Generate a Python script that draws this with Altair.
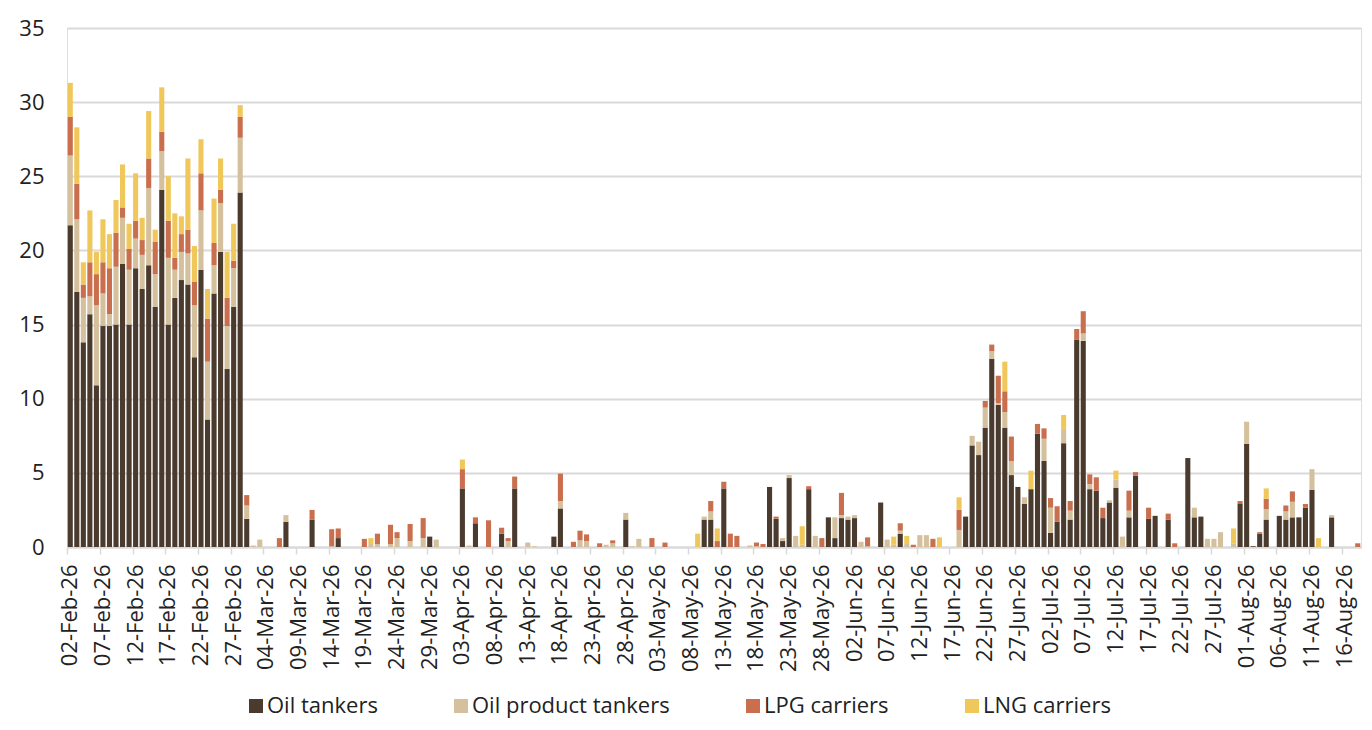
import altair as alt
import pandas as pd

# ---- categories ----
dates = pd.date_range("2026-02-02", periods=198, freq="D").strftime("%d-%b-%y").tolist()
tick_labels = dates[::5]
series_names = ["Oil tankers", "Oil product tankers", "LPG carriers", "LNG carriers"]
series_colors = ["#4b3b2f", "#d4c09c", "#c96f4e", "#f0c75a"]

# ---- values (per day, 02-Feb-26 .. 18-Aug-26) ----
oil_feb = [21.7, 17.2, 13.8, 15.7, 10.9, 14.9, 14.9, 15.0, 19.1, 15.0, 18.8, 17.4, 19.0, 16.2,
           24.1, 15.0, 16.8, 18.0, 17.7, 12.8, 18.7, 8.6, 17.1, 19.9, 12.0, 16.2, 23.9]
prod_feb = [4.7, 4.9, 3.0, 1.2, 5.4, 2.2, 0.8, 3.9, 3.1, 3.7, 2.0, 2.3, 5.2, 2.2,
            2.6, 4.5, 1.9, 1.9, 2.1, 3.5, 4.0, 3.9, 1.9, 3.3, 2.9, 2.6, 3.7]
lpg_feb = [2.6, 2.4, 0.9, 2.3, 2.1, 2.1, 3.1, 2.3, 0.7, 1.4, 1.2, 1.0, 2.0, 2.2,
           1.3, 2.5, 0.8, 1.2, 1.6, 1.6, 2.5, 2.9, 1.5, 0.9, 1.9, 0.5, 1.4]
lng_feb = [2.3, 3.8, 1.5, 3.5, 1.5, 2.9, 2.3, 2.2, 2.9, 1.7, 3.2, 1.5, 3.2, 0.8,
           3.0, 3.0, 3.0, 1.2, 4.8, 2.4, 2.3, 2.0, 3.0, 2.1, 3.1, 2.5, 0.8]

oil_mar = [1.9, 0, 0, 0, 0, 0, 1.7, 0, 0, 0,
           1.85, 0, 0, 0, 0.6, 0, 0, 0, 0, 0,
           0, 0, 0, 0, 0, 0, 0, 0, 0.7, 0,
           0]
prod_mar = [0.9, 0.1, 0.5, 0, 0, 0, 0.45, 0, 0, 0,
            0, 0, 0, 0.05, 0, 0, 0, 0, 0, 0.2,
            0.2, 0, 0.2, 0.6, 0, 0.4, 0, 0.6, 0, 0.5,
            0]
lpg_mar = [0.7, 0, 0, 0, 0, 0.6, 0, 0, 0, 0,
           0.65, 0, 0, 1.15, 0.65, 0, 0, 0, 0.55, 0,
           0.7, 0, 1.3, 0.4, 0, 1.15, 0, 1.35, 0, 0,
           0]
lng_mar = [0, 0, 0, 0, 0, 0, 0, 0, 0, 0,
           0, 0, 0, 0, 0, 0, 0, 0, 0, 0.4,
           0, 0, 0, 0, 0, 0, 0, 0, 0, 0,
           0]

oil_apr = [0, 0, 3.95, 0, 1.6, 0, 0, 0, 0.9, 0,
           3.95, 0, 0, 0, 0, 0, 0.7, 2.6, 0, 0,
           0, 0, 0, 0, 0, 0, 0, 1.85, 0, 0]
prod_apr = [0, 0, 0, 0.1, 0, 0, 0, 0, 0, 0.4,
            0, 0, 0.3, 0.05, 0, 0, 0, 0.5, 0, 0,
            0.45, 0.4, 0, 0, 0.15, 0.25, 0, 0.45, 0.05, 0.55]
lpg_apr = [0, 0, 1.3, 0, 0.4, 0, 1.8, 0, 0.4, 0.2,
           0.8, 0, 0, 0, 0, 0, 0, 1.85, 0, 0.35,
           0.65, 0.45, 0, 0.25, 0, 0.2, 0, 0, 0, 0]
lng_apr = [0, 0, 0.65, 0, 0, 0, 0, 0, 0, 0,
           0, 0, 0, 0, 0, 0, 0, 0, 0, 0,
           0, 0, 0, 0, 0, 0, 0, 0, 0, 0]

oil_may = [0, 0, 0, 0, 0, 0, 0, 0, 0, 1.85,
           1.85, 0, 3.95, 0, 0, 0, 0, 0, 0, 4.05,
           1.9, 0.4, 4.65, 0, 0, 3.9, 0, 0, 2.0, 0.6,
           1.95]
prod_may = [0, 0, 0, 0, 0, 0, 0, 0, 0, 0.2,
            0.55, 0, 0, 0, 0, 0, 0.1, 0.05, 0, 0,
            0, 0.2, 0.2, 0.75, 0.15, 0, 0.75, 0, 0, 1.4,
            0.2]
lpg_may = [0, 0.6, 0, 0.3, 0, 0, 0, 0, 0, 0,
           0.7, 0.4, 0.45, 0.9, 0.75, 0, 0, 0.25, 0.2, 0,
           0.15, 0, 0, 0, 0, 0.2, 0, 0.6, 0, 0,
           1.5]
lng_may = [0, 0, 0, 0, 0, 0, 0, 0, 0.9, 0,
           0, 0.85, 0, 0, 0, 0, 0, 0, 0, 0,
           0, 0, 0, 0, 1.25, 0, 0, 0, 0, 0,
           0]

oil_jun = [1.85, 1.95, 0, 0, 0, 3.0, 0, 0, 0.9, 0,
           0, 0, 0, 0, 0, 0, 0, 0, 2.05, 6.85,
           6.2, 8.05, 12.7, 9.6, 8.05, 4.85, 4.05, 2.9, 3.9, 7.65]
prod_jun = [0.2, 0.2, 0.35, 0.05, 0, 0, 0.5, 0.15, 0.2, 0.2,
            0, 0.8, 0.8, 0, 0, 0, 0, 1.15, 0, 0.65,
            0.9, 1.35, 0.5, 0.1, 1.05, 0.95, 0, 0.45, 0, 0]
lpg_jun = [0, 0, 0, 0.6, 0, 0, 0, 0, 0.5, 0,
           0.15, 0, 0, 0.55, 0, 0, 0, 1.35, 0, 0,
           0, 0.45, 0.45, 1.85, 1.4, 1.65, 0, 0, 0, 0.65]
lng_jun = [0, 0, 0, 0, 0, 0, 0, 0.55, 0, 0.55,
           0, 0, 0, 0, 0.65, 0, 0, 0.85, 0, 0,
           0, 0, 0, 0, 2.0, 0, 0, 0, 1.25, 0]

oil_jul = [5.8, 0.95, 1.7, 7.0, 1.85, 14.0, 13.9, 3.9, 3.8, 1.95,
           3.0, 4.0, 0, 2.0, 4.8, 0, 1.9, 2.1, 0, 1.85,
           0, 0, 6.0, 2.0, 2.05, 0, 0, 0, 0, 0,
           2.9]
prod_jul = [1.5, 1.7, 0, 0.95, 0.6, 0, 0.5, 0.35, 0, 0,
            0.15, 0.55, 0.7, 0.45, 0, 0, 0, 0, 0, 0,
            0, 0, 0, 0.65, 0, 0.55, 0.55, 1.0, 0, 0.25,
            0]
lpg_jul = [0.7, 0.65, 1.05, 0, 0.65, 0.7, 1.5, 0.65, 0.9, 0.7,
           0, 0, 0, 1.35, 0.25, 0, 0.75, 0, 0, 0.4,
           0.25, 0, 0, 0, 0, 0, 0, 0, 0, 0,
           0.2]
lng_jul = [0, 0, 0, 0.95, 0, 0, 0, 0, 0, 0,
           0, 0.6, 0, 0, 0, 0, 0, 0, 0, 0,
           0, 0, 0, 0, 0, 0, 0, 0, 0, 1.0,
           0]

oil_aug = [6.95, 0.05, 0.9, 1.85, 0, 2.1, 1.85, 2.0, 2.0, 2.65, 3.85, 0, 0, 2.0, 0, 0, 0, 0]
prod_aug = [1.5, 0, 0, 0.7, 0, 0, 0.55, 1.05, 0, 0, 1.4, 0, 0, 0.15, 0, 0, 0, 0]
lpg_aug = [0, 0, 0.1, 0.7, 0, 0, 0.4, 0.7, 0, 0.25, 0, 0, 0, 0, 0, 0, 0, 0.25]
lng_aug = [0, 0, 0, 0.7, 0, 0, 0, 0, 0, 0, 0, 0.6, 0, 0, 0, 0, 0, 0]

oil = oil_feb + oil_mar + oil_apr + oil_may + oil_jun + oil_jul + oil_aug
prod = prod_feb + prod_mar + prod_apr + prod_may + prod_jun + prod_jul + prod_aug
lpg = lpg_feb + lpg_mar + lpg_apr + lpg_may + lpg_jun + lpg_jul + lpg_aug
lng = lng_feb + lng_mar + lng_apr + lng_may + lng_jun + lng_jul + lng_aug
for arr in (oil, prod, lpg, lng):
    assert len(arr) == len(dates), len(arr)

rows = []
for i, d in enumerate(dates):
    for k, arr in enumerate((oil, prod, lpg, lng)):
        if arr[i] > 0:
            rows.append({"date": d, "series": series_names[k], "value": arr[i], "order": k})
df = pd.DataFrame(rows)

FONT = "Open Sans"
TXT = "#222222"
GRID = "#d9d9d9"

chart = alt.Chart(df).mark_bar().encode(
    x=alt.X(
        "date:O",
        scale=alt.Scale(domain=dates, paddingInner=0.22, paddingOuter=0.11),
        axis=alt.Axis(
            values=tick_labels, labelAngle=-90, bandPosition=0, title=None,
            labelFont=FONT, labelFontSize=22, labelColor=TXT, labelPadding=10,
            labelOverlap=False, domainColor=GRID, domainWidth=2,
            tickColor=GRID, tickSize=7, tickWidth=1.5, grid=False,
        ),
    ),
    y=alt.Y(
        "value:Q",
        stack="zero",
        scale=alt.Scale(domain=[0, 35], nice=False),
        axis=alt.Axis(
            values=list(range(0, 36, 5)), title=None, domain=False, ticks=False,
            labelFont=FONT, labelFontSize=22, labelColor=TXT, labelPadding=23,
            gridColor=GRID, gridWidth=2,
        ),
    ),
    color=alt.Color(
        "series:N",
        scale=alt.Scale(domain=series_names, range=series_colors),
        legend=alt.Legend(
            title=None, orient="none", legendX=178, legendY=667, direction="horizontal",
            symbolType="square", symbolSize=196, symbolStrokeWidth=0, symbolOpacity=1,
            labelFont=FONT, labelFontSize=22, labelColor=TXT, labelOffset=0,
            labelLimit=400, columnPadding=72, padding=0,
        ),
    ),
    order=alt.Order("order:Q", sort="ascending"),
).properties(
    width=1294,
    height=519,
    padding={"left": 59, "top": 20, "right": 2, "bottom": 175},
    autosize=alt.AutoSizeParams(type="none"),
).configure_view(stroke=None).configure(font=FONT, background="white")

chart.save("out.html", embed_options={"renderer": "svg", "actions": False})
